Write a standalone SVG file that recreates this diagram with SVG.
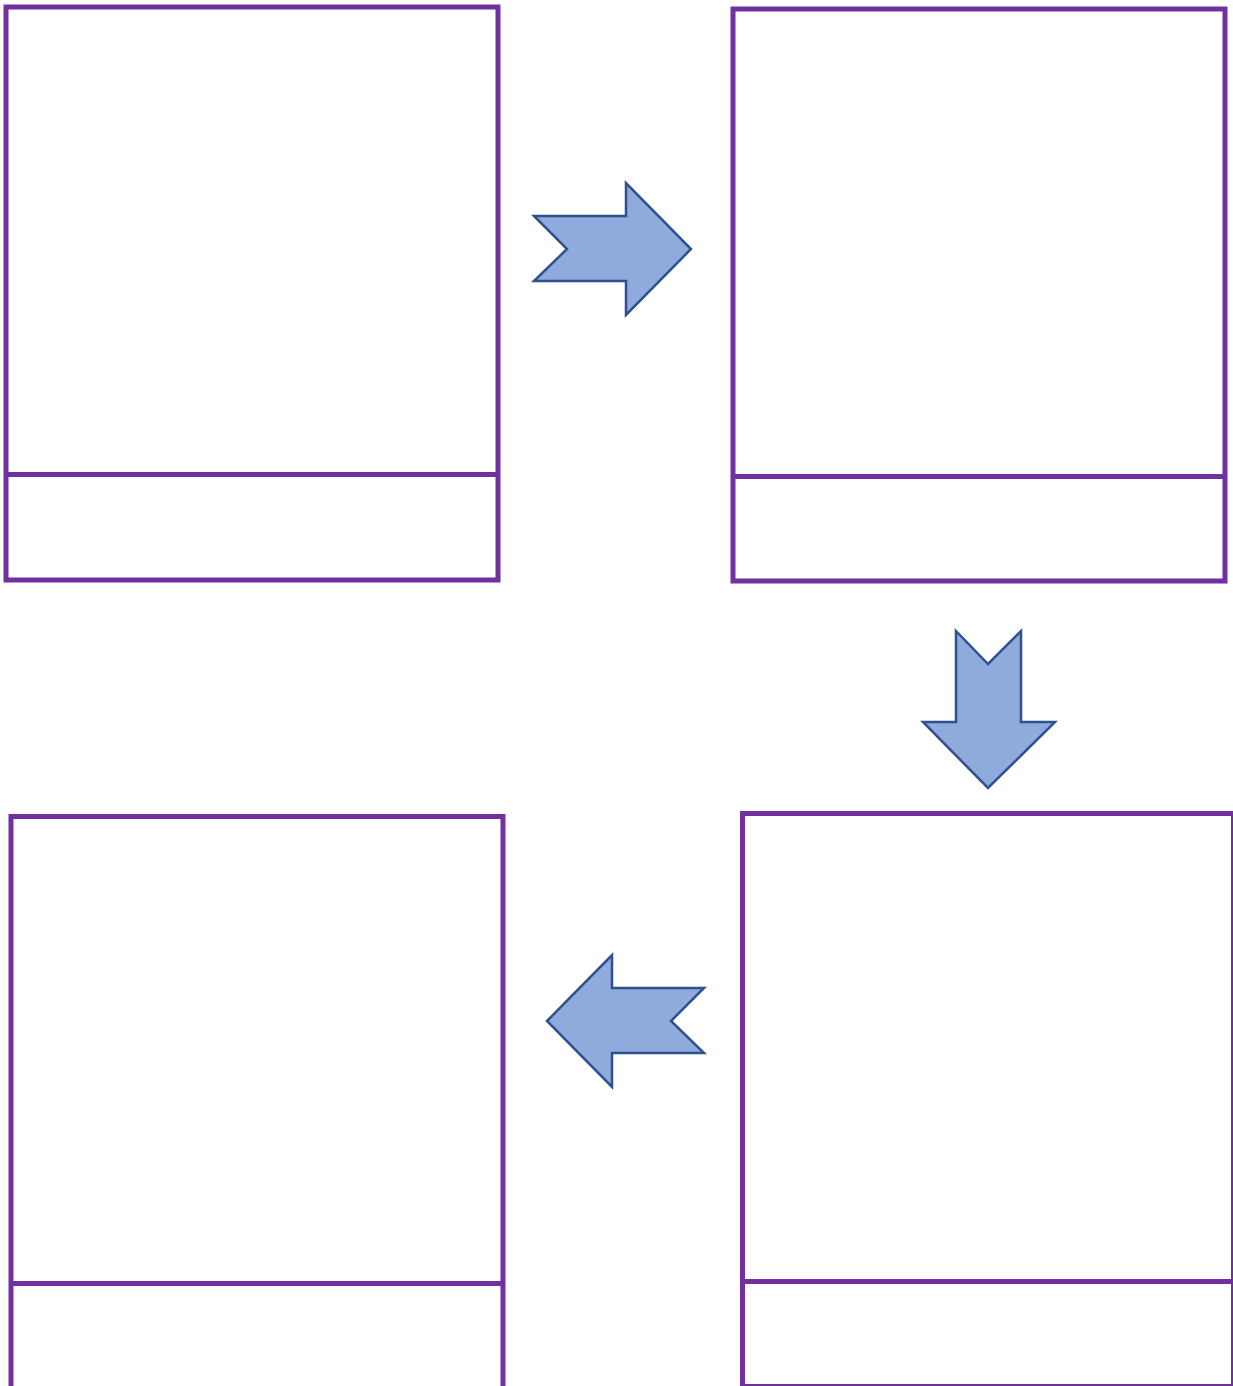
<svg xmlns="http://www.w3.org/2000/svg" width="1233" height="1386" viewBox="0 0 1233 1386">
<style>
.box{fill:#ffffff;stroke:#7030A0;stroke-width:5}
.div{stroke:#7030A0;stroke-width:5;fill:none}
.arr{fill:#8FAADC;stroke:#2F528F;stroke-width:2.5;stroke-linejoin:miter}
</style>
<rect width="1233" height="1386" fill="#ffffff"/>
<g id="node1">
<rect class="box" x="6" y="7" width="492" height="573"/>
<line class="div" x1="6" y1="474.5" x2="498" y2="474.5"/>
</g>
<g id="node2">
<rect class="box" x="733" y="9" width="492" height="572"/>
<line class="div" x1="733" y1="476.5" x2="1225" y2="476.5"/>
</g>
<g id="node3">
<rect class="box" x="742.5" y="813.5" width="491" height="573"/>
<line class="div" x1="742.5" y1="1281.5" x2="1233" y2="1281.5"/>
</g>
<g id="node4">
<rect class="box" x="11" y="816.5" width="492" height="580"/>
<line class="div" x1="11" y1="1283.5" x2="503" y2="1283.5"/>
</g>
<g id="connectors">
<polygon class="arr" points="534,216 626,216 626,183 691,249 626,315 626,281 534,281 567,249"/>
<polygon class="arr" points="956,631 988,664 1021,631 1021,722 1055,722 988,788 923,722 956,722"/>
<polygon class="arr" points="547,1021 612,955 612,988 704,988 671,1021 704,1053 612,1053 612,1087"/>
</g>
</svg>
